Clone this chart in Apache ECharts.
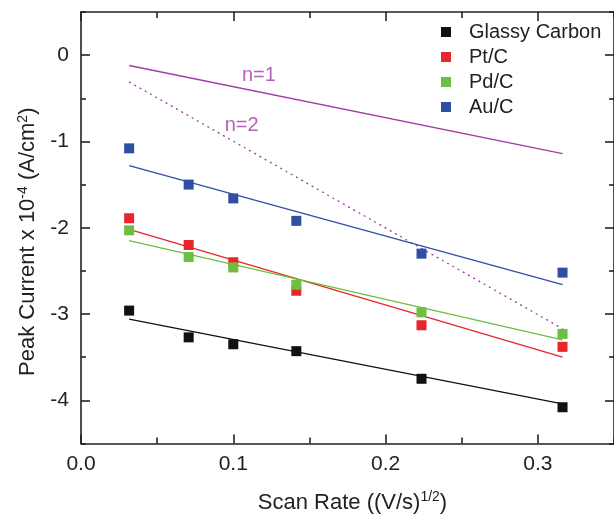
<!DOCTYPE html>
<html><head><meta charset="utf-8">
<script src="https://cdn.jsdelivr.net/npm/echarts/dist/echarts.min.js"></script>
<style>html,body{margin:0;padding:0;background:#fff}#c{width:614px;height:519px}</style>
</head><body><div id="c"></div>
<script>
// Data
const scanRate = [0.0316, 0.0707, 0.1, 0.1414, 0.2236, 0.3162];
const glassyCarbon = [-2.96, -3.27, -3.35, -3.43, -3.75, -4.08];
const ptC = [-1.89, -2.20, -2.40, -2.73, -3.13, -3.38];
const pdC = [-2.03, -2.34, -2.46, -2.66, -2.98, -3.23];
const auC = [-1.08, -1.50, -1.66, -1.92, -2.30, -2.52];
const fitX = [0.0316, 0.3162];
const glassyFit = [-3.06, -4.04];
const ptFit = [-2.02, -3.50];
const pdFit = [-2.15, -3.30];
const auFit = [-1.28, -2.66];
const n1Line = [-0.12, -1.14];
const n2Line = [-0.31, -3.17];
const annotX = [0.1168, 0.1055];
const annotY = [-0.24, -0.81];
const annotText = ['n=1', 'n=2'];
const seriesNames = ['Glassy Carbon', 'Pt/C', 'Pd/C', 'Au/C'];
const yMajorTicks = [-4, -3, -2, -1, 0];
const yMinorTicks = [-4.5, -3.5, -2.5, -1.5, -0.5, 0.5];
const xMajorTicks = [0, 0.1, 0.2, 0.3];
const xMinorTicks = [0.05, 0.15, 0.25, 0.35];

const FONT = 'Liberation Sans, Arial, sans-serif';
const colors = { gc: '#111111', pt: '#e8262a', pd: '#6cbf3f', au: '#2e4fa3', n: '#a33aa8' };
const pair = (xs, ys) => xs.map((x, i) => [x, ys[i]]);

function scatter(name, ys, color) {
  return { name, type: 'scatter', data: pair(scanRate, ys), symbol: 'rect', symbolSize: 10,
    itemStyle: { color, opacity: 1 }, z: 5 };
}
function fit(name, ys, color, type) {
  return { name, type: 'line', data: pair(fitX, ys), symbol: 'none', silent: true,
    lineStyle: { color, width: 1.3, type: type || 'solid' }, z: 3 };
}

const axisLineStyle = { color: '#222', width: 1.6 };
const xBase = { type: 'value', min: 0, max: 0.35, gridIndex: 0, splitLine: { show: false } };
const yBase = { type: 'value', min: -4.5, max: 0.5, gridIndex: 0, splitLine: { show: false } };
const rich = { a: { fontFamily: FONT, fontSize: 22, color: '#222' },
  s: { fontFamily: FONT, fontSize: 14, color: '#222', padding: [0, 0, 11, 0] } };

function xAxisOf(position, ticks, len, withLabels, withLine) {
  return Object.assign({}, xBase, {
    position,
    axisLine: { show: withLine, onZero: false, lineStyle: axisLineStyle },
    axisTick: { show: true, inside: true, length: len, customValues: ticks, lineStyle: axisLineStyle },
    axisLabel: withLabels ? { show: true, customValues: ticks, fontFamily: FONT, fontSize: 21, color: '#222', margin: 10,
      formatter: v => v.toFixed(1) } : { show: false }
  });
}
function yAxisOf(position, ticks, len, withLabels, withLine) {
  return Object.assign({}, yBase, {
    position,
    axisLine: { show: withLine, onZero: false, lineStyle: axisLineStyle },
    axisTick: { show: true, inside: true, length: len, customValues: ticks, lineStyle: axisLineStyle },
    axisLabel: withLabels ? { show: true, customValues: ticks, fontFamily: FONT, fontSize: 21, color: '#222', margin: 12,
      formatter: v => String(Math.round(v)) } : { show: false }
  });
}

const xMain = xAxisOf('bottom', xMajorTicks, 9, true, true);
Object.assign(xMain, { name: '{a|Scan Rate ((V/s)}{s|1/2}{a|)}', nameLocation: 'middle', nameGap: 47,
  nameTextStyle: { rich, padding: [0, 0, 0, 10] } });
const yMain = yAxisOf('left', yMajorTicks, 9, true, true);
Object.assign(yMain, { name: '{a|Peak Current x 10}{s|-4}{a| (A/cm}{s|2}{a|)}', nameLocation: 'middle',
  nameGap: 38, nameRotate: 90, nameTextStyle: { rich, padding: [0, 28, 0, 0] } });

const chart = echarts.init(document.getElementById('c'), null, { renderer: 'canvas' });
chart.setOption({
  animation: false,
  backgroundColor: '#fff',
  grid: { left: 81, top: 12, width: 541, height: 432, containLabel: false },
  legend: {
    data: seriesNames, left: 441, top: 22, padding: 0, orient: 'vertical', icon: 'rect',
    itemWidth: 10, itemHeight: 10, itemGap: 5,
    textStyle: { fontFamily: FONT, fontSize: 20, color: '#222', padding: [0, 0, 0, 13] }
  },
  xAxis: [
    xMain,
    xAxisOf('bottom', xMinorTicks, 6, false, false),
    xAxisOf('top', xMajorTicks, 9, false, true),
    xAxisOf('top', xMinorTicks, 6, false, false)
  ],
  yAxis: [
    yMain,
    yAxisOf('left', yMinorTicks, 5, false, false),
    yAxisOf('right', yMajorTicks, 9, false, true),
    yAxisOf('right', yMinorTicks, 5, false, false)
  ],
  series: [
    fit('n=1 line', n1Line, colors.n),
    fit('n=2 line', n2Line, colors.n, [2, 4]),
    fit('GC fit', glassyFit, colors.gc),
    fit('Pt fit', ptFit, colors.pt),
    fit('Pd fit', pdFit, colors.pd),
    fit('Au fit', auFit, colors.au),
    scatter(seriesNames[0], glassyCarbon, colors.gc),
    scatter(seriesNames[1], ptC, colors.pt),
    scatter(seriesNames[2], pdC, colors.pd),
    scatter(seriesNames[3], auC, colors.au),
    { name: 'annotations', type: 'scatter', symbolSize: 0, silent: true,
      data: annotX.map((x, i) => ({ value: [x, annotY[i]], label: { formatter: annotText[i] } })),
      label: { show: true, position: 'inside', fontFamily: FONT, fontSize: 20, color: colors.n } }
  ]
});
</script></body></html>
